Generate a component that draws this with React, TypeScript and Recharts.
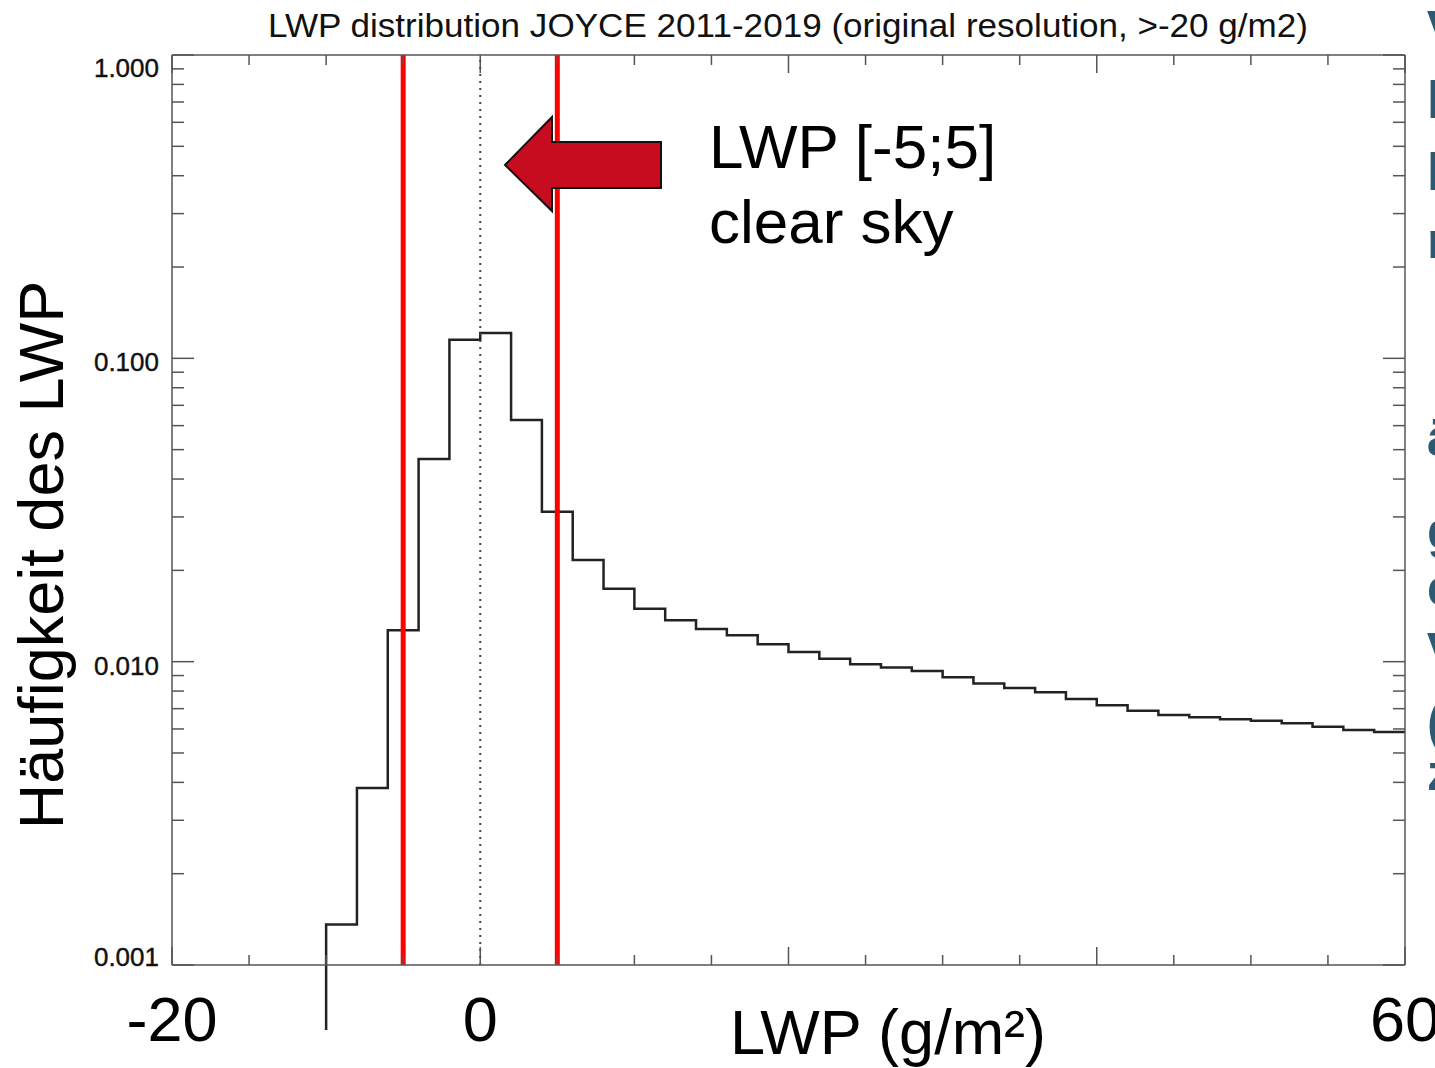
import React from "react";
import { ComposedChart, Line, XAxis, YAxis, ReferenceLine } from "recharts";

// left edges of the 2 g/m2 bins, and the relative frequency in each
const binStart = [
  -10, -8, -6, -4, -2, 0, 2, 4, 6, 8, 10, 12, 14, 16, 18, 20, 22, 24, 26, 28,
  30, 32, 34, 36, 38, 40, 42, 44, 46, 48, 50, 52, 54, 56, 58,
];
const freq = [
  0.00136, 0.00383, 0.0127, 0.0466, 0.1152, 0.1212, 0.0626, 0.0312, 0.02164,
  0.0174, 0.01495, 0.01369, 0.01281, 0.01222, 0.01141, 0.01076, 0.01023,
  0.0098, 0.00957, 0.00932, 0.00888, 0.00848, 0.00819, 0.00793, 0.00753,
  0.00718, 0.00689, 0.00667, 0.00656, 0.00646, 0.00639, 0.00626, 0.0061,
  0.00595, 0.00586,
];
// the bin left of -10 is below the axis minimum, the step drops out of the box
const tailFreq = 0.00061;
const binEnd = 60;

const xTicks = [-20, -15, -10, -5, 0, 5, 10, 15, 20, 25, 30, 35, 40, 45, 50, 55, 60];
const xMajor = [-20, 0, 20, 40, 60];
const xLabels = [-20, 0, 60];

const yTicks = [
  0.001, 0.002, 0.003, 0.004, 0.005, 0.006, 0.007, 0.008, 0.009,
  0.01, 0.02, 0.03, 0.04, 0.05, 0.06, 0.07, 0.08, 0.09,
  0.1, 0.2, 0.3, 0.4, 0.5, 0.6, 0.7, 0.8, 0.9, 1,
];
const yMajor = [0.001, 0.01, 0.1, 1];
const yLabels = ["0.001", "0.010", "0.100", "1.000"];

const clearSkyBounds = [-5, 5];

const histData = [
  { lwp: binStart[0], freq: tailFreq },
  ...binStart.map((b, i) => ({ lwp: b, freq: freq[i] })),
  { lwp: binEnd, freq: freq[freq.length - 1] },
];

const FONT = "'Liberation Sans', Arial, Helvetica, sans-serif";
const AXIS = "#555";
const TOP = 55;
const BOTTOM = 965;
const BIG = 63;

const isMajorX = (v: number) => xMajor.includes(v);
const isMajorY = (v: number) => yMajor.some((m) => Math.abs(m - v) < 1e-9);

function BottomTick(props: any) {
  const { x, payload } = props;
  const v = payload.value;
  const len = isMajorX(v) ? 18 : 10;
  return (
    <g>
      <line x1={x} x2={x} y1={BOTTOM} y2={BOTTOM - len} stroke={AXIS} strokeWidth={1.5} />
      {xLabels.includes(v) && (
        <text x={x} y={1041} textAnchor="middle" fontSize={BIG} fontFamily={FONT} fill="#000">
          {v}
        </text>
      )}
    </g>
  );
}

function TopTick(props: any) {
  const { x, payload } = props;
  const len = isMajorX(payload.value) ? 18 : 10;
  return <line x1={x} x2={x} y1={TOP} y2={TOP + len} stroke={AXIS} strokeWidth={1.5} />;
}

function LeftTick(props: any) {
  const { y, payload } = props;
  const v = payload.value;
  const major = isMajorY(v);
  const idx = yMajor.findIndex((m) => Math.abs(m - v) < 1e-9);
  const ly = Math.min(Math.max(y + 4, TOP + 13), BOTTOM - 8);
  return (
    <g>
      <line x1={172} x2={172 + (major ? 22 : 12)} y1={y} y2={y} stroke={AXIS} strokeWidth={1.5} />
      {major && (
        <text
          x={159}
          y={ly + 9}
          textAnchor="end"
          fontSize={26}
          fontFamily={FONT}
          fill="#111"
          stroke="#111"
          strokeWidth={0.4}
        >
          {yLabels[idx]}
        </text>
      )}
    </g>
  );
}

function RightTick(props: any) {
  const { y, payload } = props;
  const len = isMajorY(payload.value) ? 22 : 12;
  return <line x1={1405} x2={1405 - len} y1={y} y2={y} stroke={AXIS} strokeWidth={1.5} />;
}

const sideLetters = [
  { ch: "v", y: 38 },
  { ch: "l", y: 118 },
  { ch: "l", y: 190 },
  { ch: "r", y: 258 },
  { ch: "ä", y: 455 },
  { ch: "g", y: 548 },
  { ch: "e", y: 605 },
  { ch: "v", y: 660 },
  { ch: "(", y: 740 },
  { ch: "z", y: 790 },
];

export default function App() {
  return (
    <div
      style={{
        position: "absolute",
        left: 0,
        top: 0,
        width: 1435,
        height: 1068,
        overflow: "hidden",
        background: "#fff",
      }}
    >
      <style>{`.hist-line, .hist-line * { clip-path: none !important; }`}</style>
      <ComposedChart
        width={1435}
        height={1068}
        data={histData}
        margin={{ top: TOP - 1, right: 29, bottom: 1068 - BOTTOM - 1, left: 171 }}
      >
        <XAxis
          xAxisId="b"
          type="number"
          dataKey="lwp"
          domain={[-20, 60]}
          ticks={xTicks}
          interval={0}
          height={1}
          tickSize={0}
          tickMargin={0}
          tickLine={false}
          axisLine={{ stroke: AXIS, strokeWidth: 1.5 }}
          tick={(p: any) => <BottomTick {...p} />}
          allowDataOverflow
        />
        <XAxis
          xAxisId="t"
          orientation="top"
          type="number"
          dataKey="lwp"
          domain={[-20, 60]}
          ticks={xTicks}
          interval={0}
          height={1}
          tickSize={0}
          tickMargin={0}
          tickLine={false}
          axisLine={{ stroke: AXIS, strokeWidth: 1.5 }}
          tick={(p: any) => <TopTick {...p} />}
          allowDataOverflow
        />
        <YAxis
          yAxisId="l"
          type="number"
          scale="log"
          domain={[0.001, 1]}
          ticks={yTicks}
          interval={0}
          width={1}
          tickSize={0}
          tickMargin={0}
          tickLine={false}
          axisLine={{ stroke: AXIS, strokeWidth: 1.5 }}
          tick={(p: any) => <LeftTick {...p} />}
          allowDataOverflow
        />
        <YAxis
          yAxisId="r"
          orientation="right"
          type="number"
          scale="log"
          domain={[0.001, 1]}
          ticks={yTicks}
          interval={0}
          width={1}
          tickSize={0}
          tickMargin={0}
          tickLine={false}
          axisLine={{ stroke: AXIS, strokeWidth: 1.5 }}
          tick={(p: any) => <RightTick {...p} />}
          allowDataOverflow
        />
        <Line
          xAxisId="b"
          yAxisId="l"
          className="hist-line"
          type="stepAfter"
          dataKey="freq"
          stroke="#222"
          strokeWidth={2.5}
          dot={false}
          activeDot={false}
          isAnimationActive={false}
        />
        <ReferenceLine
          xAxisId="b"
          yAxisId="l"
          x={0}
          stroke="#444"
          strokeWidth={2}
          strokeDasharray="2 5"
        />
        {clearSkyBounds.map((b) => (
          <ReferenceLine key={b} xAxisId="b" yAxisId="l" x={b} stroke="#ff0000" strokeWidth={5} />
        ))}
      </ComposedChart>

      <svg
        width={1435}
        height={1068}
        style={{ position: "absolute", left: 0, top: 0, pointerEvents: "none" }}
      >
        <text
          x={268}
          y={37}
          fontSize={33}
          fontFamily={FONT}
          fill="#111"
          textLength={1040}
          lengthAdjust="spacingAndGlyphs"
        >
          LWP distribution JOYCE 2011-2019 (original resolution, &gt;-20 g/m2)
        </text>
        <text
          x={63}
          y={555}
          transform="rotate(-90 63 555)"
          textAnchor="middle"
          fontSize={BIG}
          fontFamily={FONT}
          fill="#000"
        >
          Häufigkeit des LWP
        </text>
        <text x={888} y={1054} textAnchor="middle" fontSize={BIG} fontFamily={FONT} fill="#000">
          LWP (g/m²)
        </text>
        <polygon
          points="505,165 552,117 552,142 661,142 661,188 552,188 552,211"
          fill="#c80c20"
          stroke="#111"
          strokeWidth={2}
        />
        <text x={709} y={168} fontSize={62} fontFamily={FONT} fill="#000">
          LWP [-5;5]
        </text>
        <text x={709} y={243} fontSize={62} fontFamily={FONT} fill="#000">
          clear sky
        </text>
        {sideLetters.map((s, i) => (
          <text
            key={i}
            x={1427}
            y={s.y}
            fontSize={52}
            fontWeight="bold"
            fontFamily={FONT}
            fill="#2c5a75"
          >
            {s.ch}
          </text>
        ))}
      </svg>
    </div>
  );
}
